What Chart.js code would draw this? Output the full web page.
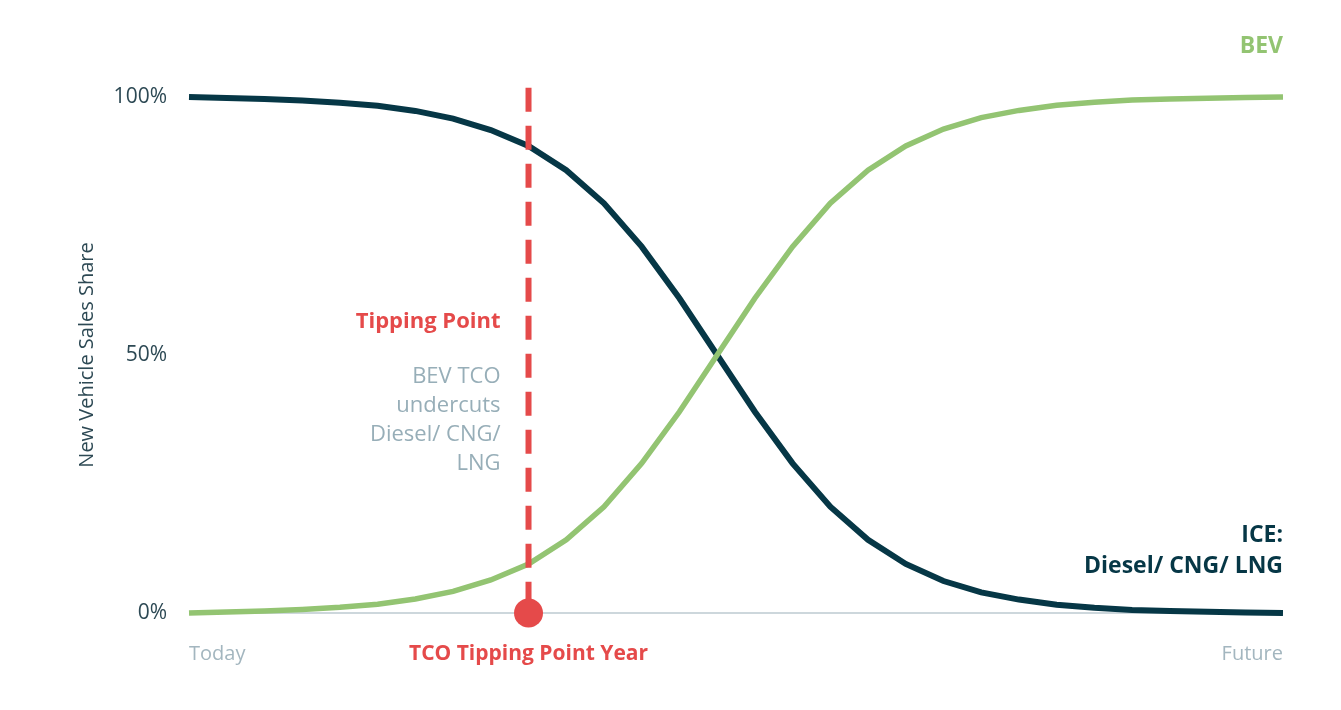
<!DOCTYPE html>
<html>
<head>
<meta charset="utf-8">
<script src="https://cdn.jsdelivr.net/npm/chart.js@4"></script>
<style>
  html, body { margin: 0; padding: 0; background: #fff; }
  #wrap { width: 1341px; height: 710px; position: relative; }
</style>
</head>
<body>
<div id="wrap"><canvas id="sCurve"></canvas></div>
<script>
// Sales share (%) per step, Today -> Future
const steps = [0, 1, 2, 3, 4, 5, 6, 7, 8, 9, 10, 11, 12, 13, 14, 15, 16, 17, 18, 19, 20, 21, 22, 23, 24, 25, 26, 27, 28, 29];
const iceShare = [100, 99.8, 99.6, 99.3, 98.9, 98.3, 97.3, 95.8, 93.6, 90.5, 85.8, 79.4, 71.0, 61.0, 50.0, 39.0, 29.0, 20.6, 14.2, 9.5, 6.2, 4.0, 2.6, 1.6, 1.0, 0.6, 0.4, 0.25, 0.12, 0];
const bevShare = [0, 0.2, 0.4, 0.7, 1.1, 1.7, 2.7, 4.2, 6.4, 9.5, 14.2, 20.6, 29.0, 39.0, 50.0, 61.0, 71.0, 79.4, 85.8, 90.5, 93.8, 96.0, 97.4, 98.4, 99.0, 99.4, 99.6, 99.75, 99.88, 100];
const xTickLabels = ['Today', 'Future'];
const yTicks = [0, 50, 100];
const tippingStep = 9;
const tippingTop = 101.8;

const FONT = '"Open Sans", Lato, sans-serif';
const C_ICE = '#063746';
const C_BEV = '#93c472';
const C_RED = '#e54a4a';
const C_GREY = '#97aeb8';

// annotation texts drawn against the scales
const annotations = {
    id: 'annotations',
    afterDatasetsDraw(chart) {
        const { ctx, scales: { x, y } } = chart;
        const tx = x.getPixelForValue(tippingStep);
        ctx.save();
        ctx.textBaseline = 'middle';

        // tipping point block
        ctx.textAlign = 'right';
        ctx.fillStyle = C_RED;
        ctx.font = 'bold 22px ' + FONT;
        ctx.fillText('Tipping Point', tx - 28, y.getPixelForValue(56.5));
        ctx.fillStyle = C_GREY;
        ctx.font = '22px ' + FONT;
        ['BEV TCO', 'undercuts', 'Diesel/ CNG/', 'LNG'].forEach((line, i) => {
            ctx.fillText(line, tx - 28, y.getPixelForValue(45.7) + i * 29);
        });

        // year label under the axis
        ctx.textAlign = 'center';
        ctx.fillStyle = C_RED;
        ctx.font = 'bold 21px ' + FONT;
        ctx.fillText('TCO Tipping Point Year', tx, y.getPixelForValue(0) + 41);

        // series labels
        const right = x.getPixelForValue(steps[steps.length - 1]);
        ctx.textAlign = 'right';
        ctx.fillStyle = C_BEV;
        ctx.font = 'bold 23px ' + FONT;
        ctx.fillText('BEV', right, y.getPixelForValue(100) - 51);
        ctx.fillStyle = C_ICE;
        ctx.fillText('ICE:', right, y.getPixelForValue(0) - 78);
        ctx.fillText('Diesel/ CNG/ LNG', right, y.getPixelForValue(0) - 47);
        ctx.restore();
    }
};

const ctx = document.getElementById('sCurve').getContext('2d');
new Chart(ctx, {
    type: 'line',
    data: {
        datasets: [
            {
                label: 'Tipping line',
                data: [{ x: tippingStep, y: tippingTop }, { x: tippingStep, y: 0 }],
                borderColor: C_RED,
                borderWidth: 6,
                borderDash: [24, 14],
                pointRadius: 0,
                clip: false,
                order: 0
            },
            {
                label: 'Tipping year',
                data: [{ x: tippingStep, y: 0 }],
                showLine: false,
                pointRadius: 14.5,
                pointBackgroundColor: C_RED,
                pointBorderWidth: 0,
                clip: false,
                order: -1
            },
            {
                label: 'ICE',
                data: steps.map((s, i) => ({ x: s, y: iceShare[i] })),
                borderColor: C_ICE,
                borderWidth: 6,
                pointRadius: 0,
                tension: 0,
                clip: false,
                order: 2
            },
            {
                label: 'BEV',
                data: steps.map((s, i) => ({ x: s, y: bevShare[i] })),
                borderColor: C_BEV,
                borderWidth: 5.5,
                pointRadius: 0,
                tension: 0,
                clip: false,
                order: 1
            }
        ]
    },
    options: {
        responsive: true,
        maintainAspectRatio: false,
        animation: false,
        layout: { padding: { top: 97, right: 58, left: 0, bottom: 0 } },
        plugins: { legend: { display: false }, tooltip: { enabled: false } },
        scales: {
            x: {
                type: 'linear',
                min: steps[0],
                max: steps[steps.length - 1],
                border: { display: false },
                grid: { display: false, drawTicks: false },
                afterBuildTicks: (scale) => {
                    scale.ticks = [{ value: steps[0] }, { value: steps[steps.length - 1] }];
                },
                afterFit: (scale) => { scale.height = 97; },
                ticks: {
                    align: 'inner',
                    maxRotation: 0,
                    padding: 29,
                    color: '#a3b6bf',
                    font: { family: FONT, size: 20 },
                    callback: (v, i) => xTickLabels[i]
                }
            },
            y: {
                min: 0,
                max: 100,
                border: { display: false },
                grid: {
                    drawTicks: false,
                    lineWidth: 2,
                    color: (c) => c.tick && c.tick.value === 0 ? '#cdd7dc' : 'rgba(0,0,0,0)'
                },
                afterBuildTicks: (scale) => {
                    scale.ticks = yTicks.map(v => ({ value: v }));
                },
                afterFit: (scale) => { scale.width = 189; },
                ticks: {
                    padding: 22,
                    color: '#2d4954',
                    font: { family: FONT, size: 21 },
                    callback: (v) => v + '%'
                },
                title: {
                    display: true,
                    text: 'New Vehicle Sales Share',
                    color: '#2d4954',
                    font: { family: FONT, size: 20 },
                    padding: { top: 75, bottom: 0 }
                }
            }
        }
    },
    plugins: [annotations]
});
</script>
</body>
</html>
